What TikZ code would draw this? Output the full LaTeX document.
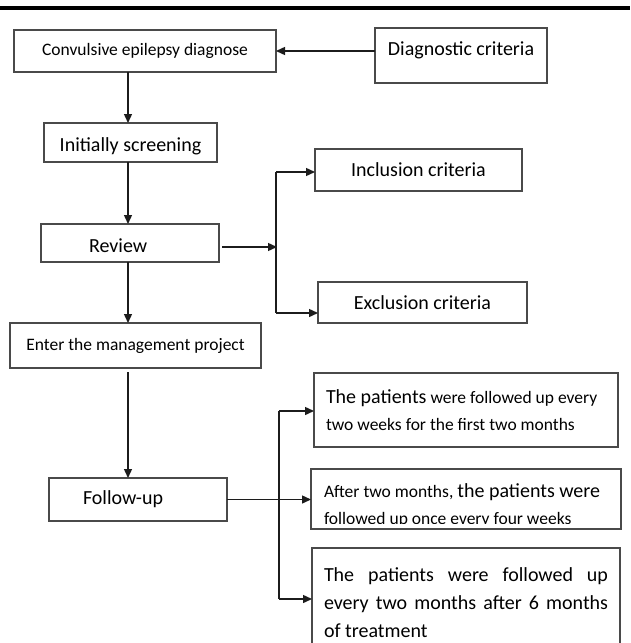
\documentclass[tikz,border=0pt]{standalone}
\usepackage{fontspec}
\setmainfont{Carlito}
\usepackage{xcolor}
\usepackage{tikz}
\usetikzlibrary{arrows.meta,positioning}
\definecolor{flowline}{HTML}{1C1C1C}
\definecolor{flowedge}{HTML}{4A4A4A}
\newcommand{\fsbig}{\fontsize{20}{27}\selectfont}
\newcommand{\fssmall}{\fontsize{17.5}{27}\selectfont}
\hyphenpenalty=10000
\tolerance=10000
\tikzset{
  box/.style={draw=flowedge,line width=1.3pt,inner sep=0pt,outer sep=0pt,anchor=north west,align=center,font=\fsbig},
  smallbox/.style={box,font=\fssmall},
  leftbox/.style={box,align=flush left},
  ar/.style={-{Triangle[length=9pt,width=8pt]},draw=flowline,line width=1.4pt},
  ln/.style={draw=flowline,line width=1.4pt},
}

\begin{document}
\begin{tikzpicture}[x=1pt,y=-1pt]
  \useasboundingbox (0,0) rectangle (630,643);
  \draw[line width=3.5pt,black] (0,8) -- (630,8);
  \node[smallbox,minimum width=262,minimum height=42] (diag) at (14,30) {Convulsive epilepsy diagnose};
  \node[box,minimum width=172,minimum height=55,text depth=14pt] (crit) at (375,28) {Diagnostic criteria};
  \node[box,minimum width=173,minimum height=39,text height=18pt,text depth=0pt] (init) at (44,123) {Initially screening};
  \node[box,minimum width=207,minimum height=42] (incl) at (315,149) {Inclusion criteria};
  \node[leftbox,minimum height=38,inner xsep=48pt,text width=82pt,text height=19pt,text depth=0pt] (review) at (41,224) {Review};
  \node[box,minimum width=209,minimum height=41] (excl) at (318,282) {Exclusion criteria};
  \node[smallbox,minimum width=251,minimum height=45] (enter) at (10,323) {Enter the management project};
  \node[leftbox,minimum height=43,inner xsep=34pt,text width=110pt] (follow) at (49,478) {Follow-up};
  \node[smallbox,align=flush left,minimum height=74,inner xsep=12pt,text width=280pt] (fa) at (314,373)
    {{\fsbig The patients} were followed up every\\two weeks for the first two months};
  \node[box,minimum width=310,minimum height=60] (fb) at (311,469) {};
  \begin{scope}
    \clip (fb.north west) rectangle ([yshift=6pt]fb.south east);
    \node[smallbox,draw=none,align=flush left,inner xsep=13pt,text width=284pt] (fbtext) at (311,483.5)
      {After two months, {\fsbig the patients were}\\followed up once every four weeks};
  \end{scope}
  \node[box,align=justify,font={\fontsize{20}{28}\selectfont},minimum height=110,inner xsep=12pt,inner ysep=14.5pt,text width=284pt] (fc) at (312,548)
    {The patients were followed up every two months after 6 months\linebreak of treatment};

  \coordinate (trunk) at (128,0);
  \coordinate (split) at (277,247);
  \coordinate (inctop) at (276,172);
  \coordinate (excbot) at (276,313);
  \coordinate (fatop) at (279,411);
  \coordinate (fcbot) at (279,599);

  \draw[ar] (crit.west |- diag.east) -- (diag.east);
  \draw[ar] (diag.south -| trunk) -- (init.north -| trunk);
  \draw[ar] (init.south -| trunk) -- (review.north -| trunk);
  \draw[ar] (review.south -| trunk) -- (enter.north -| trunk);
  \draw[ar] ([yshift=-4pt]enter.south -| trunk) -- (follow.north -| trunk);
  \draw[ar] ([xshift=3pt]review.east |- split) -- (split);
  \draw[ln] (inctop) -- (excbot);
  \draw[ar] (inctop) -- (incl.west |- inctop);
  \draw[ar] (excbot) -- (excl.west |- excbot);
  \draw[ar] (follow.east) -- (fb.west |- follow.east);
  \draw[ln] (fatop) -- (fcbot);
  \draw[ar] (fatop) -- (fa.west |- fatop);
  \draw[ar] (fcbot) -- (fc.west |- fcbot);
\end{tikzpicture}
\end{document}
